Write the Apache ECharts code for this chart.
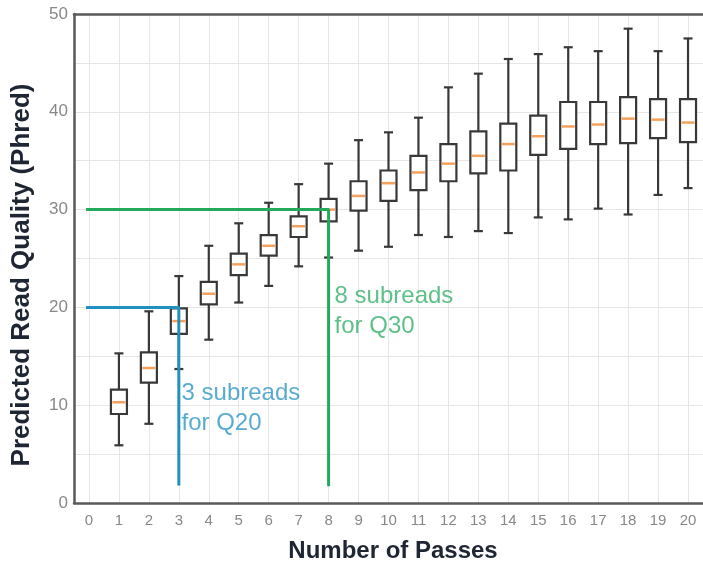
<!DOCTYPE html>
<html>
<head>
<meta charset="utf-8">
<script src="https://cdn.jsdelivr.net/npm/echarts@6/dist/echarts.min.js"></script>
<style>html,body{margin:0;padding:0;background:#fff}#c{width:703px;height:562px}</style>
</head>
<body>
<div id="c"></div>
<script>
const xTicks = [0,1,2,3,4,5,6,7,8,9,10,11,12,13,14,15,16,17,18,19,20];
const passes = [1,2,3,4,5,6,7,8,9,10,11,12,13,14,15,16,17,18,19,20];
const low    = [5.9, 8.1, 13.7, 16.7, 20.5, 22.2, 24.2, 25.1, 25.8, 26.2, 27.4, 27.2, 27.8, 27.6, 29.2, 29.0, 30.1, 29.5, 31.5, 32.2];
const q1     = [9.1, 12.3, 17.3, 20.3, 23.3, 25.3, 27.2, 28.8, 29.9, 30.9, 32.0, 32.9, 33.7, 34.0, 35.6, 36.2, 36.7, 36.8, 37.3, 36.9];
const median = [10.3, 13.8, 18.6, 21.4, 24.4, 26.3, 28.3, 30.0, 31.4, 32.7, 33.8, 34.7, 35.5, 36.7, 37.5, 38.5, 38.7, 39.3, 39.2, 38.9];
const q3     = [11.6, 15.4, 19.9, 22.6, 25.5, 27.4, 29.3, 31.1, 32.9, 34.0, 35.5, 36.7, 38.0, 38.8, 39.6, 41.0, 41.0, 41.5, 41.3, 41.3];
const high   = [15.3, 19.6, 23.2, 26.3, 28.6, 30.7, 32.6, 34.7, 37.1, 37.9, 39.4, 42.5, 43.9, 45.4, 45.9, 46.6, 46.2, 48.5, 46.2, 47.5];
const q20Line = [[-0.1, 20], [3, 20], [3, 1.8]];
const q30Line = [[-0.1, 30], [8, 30], [8, 1.7]];
const q20Text = [[3.09, 9.64]];
const q30Text = [[8.2, 19.63]];

const boxData = passes.map((p, i) => [p, low[i], q1[i], median[i], q3[i], high[i]]);

const chart = echarts.init(document.getElementById('c'));
const BOX_W = 16, CAP_W = 9;
function renderBox(params, api) {
  const x = api.value(0);
  const pL = api.coord([x, api.value(1)]);
  const p1 = api.coord([x, api.value(2)]);
  const pM = api.coord([x, api.value(3)]);
  const p3 = api.coord([x, api.value(4)]);
  const pH = api.coord([x, api.value(5)]);
  const cx = pL[0];
  const stroke = {stroke: '#383838', lineWidth: 2.2, fill: 'none'};
  return {
    type: 'group',
    children: [
      {type: 'line', shape: {x1: cx, y1: pH[1], x2: cx, y2: p3[1]}, style: stroke},
      {type: 'line', shape: {x1: cx, y1: p1[1], x2: cx, y2: pL[1]}, style: stroke},
      {type: 'line', shape: {x1: cx - CAP_W/2, y1: pH[1], x2: cx + CAP_W/2, y2: pH[1]}, style: stroke},
      {type: 'line', shape: {x1: cx - CAP_W/2, y1: pL[1], x2: cx + CAP_W/2, y2: pL[1]}, style: stroke},
      {type: 'rect', shape: {x: cx - BOX_W/2, y: p3[1], width: BOX_W, height: p1[1] - p3[1]}, style: {stroke: '#383838', lineWidth: 2.2, fill: '#fff'}},
      {type: 'line', shape: {x1: cx - BOX_W/2 + 1.5, y1: pM[1], x2: cx + BOX_W/2 - 1.5, y2: pM[1]}, style: {stroke: '#f4a15e', lineWidth: 2.5}}
    ]
  };
}

chart.setOption({
  animation: false,
  grid: {left: 74, right: -2, top: 14, bottom: 59, containLabel: false},
  xAxis: [{
    type: 'value', min: -0.5, max: 20.5,
    axisLine: {show: true, onZero: false, lineStyle: {color: '#5a5a5a', width: 2.5}},
    axisTick: {show: false, customValues: xTicks},
    axisLabel: {customValues: xTicks, color: '#888888', fontSize: 15, fontFamily: 'Liberation Sans, Arial, sans-serif', margin: 10},
    splitLine: {show: true, lineStyle: {color: '#e6e6e6', width: 1}}
  }, {
    type: 'value', min: -0.5, max: 20.5, position: 'top',
    axisLine: {show: true, onZero: false, lineStyle: {color: '#5a5a5a', width: 2.5}},
    axisTick: {show: false}, axisLabel: {show: false}, splitLine: {show: false}
  }],
  yAxis: {
    type: 'value', min: 0, max: 50, interval: 5,
    axisLine: {show: true, onZero: false, lineStyle: {color: '#5a5a5a', width: 2.5}},
    axisTick: {show: false},
    axisLabel: {color: '#888888', fontSize: 17, fontFamily: 'Liberation Sans, Arial, sans-serif', margin: 6,
      formatter: v => (v % 10 === 0 ? String(v) : '')},
    splitLine: {show: true, lineStyle: {color: '#e6e6e6', width: 1}}
  },
  series: [
    {type: 'custom', renderItem: renderBox, data: boxData, encode: {x: 0, y: [1, 5]}, z: 2},
    {type: 'line', data: q20Line, symbol: 'none', lineStyle: {color: '#2190be', width: 3}, z: 3},
    {type: 'line', data: q30Line, symbol: 'none', lineStyle: {color: '#23aa5c', width: 3}, z: 3},
    {type: 'scatter', data: q20Text, symbolSize: 0, z: 4,
      label: {show: true, position: 'right', distance: 0, formatter: '3 subreads\nfor Q20',
        color: '#2f97c4', fontSize: 24, lineHeight: 30, fontFamily: 'Liberation Sans, Arial, sans-serif'}},
    {type: 'scatter', data: q30Text, symbolSize: 0, z: 4,
      label: {show: true, position: 'right', distance: 0, formatter: '8 subreads\nfor Q30',
        color: '#36b06b', fontSize: 24, lineHeight: 30, fontFamily: 'Liberation Sans, Arial, sans-serif'}}
  ],
  graphic: [
    {type: 'text', x: 22, y: 275, rotation: Math.PI / 2,
      style: {text: 'Predicted Read Quality (Phred)', fill: '#1e2533', font: 'bold 26px "Liberation Sans", Arial, sans-serif', align: 'center', verticalAlign: 'middle'}},
    {type: 'text', x: 393, y: 551,
      style: {text: 'Number of Passes', fill: '#1e2533', font: 'bold 24px "Liberation Sans", Arial, sans-serif', align: 'center', verticalAlign: 'middle'}}
  ]
});
</script>
</body>
</html>
